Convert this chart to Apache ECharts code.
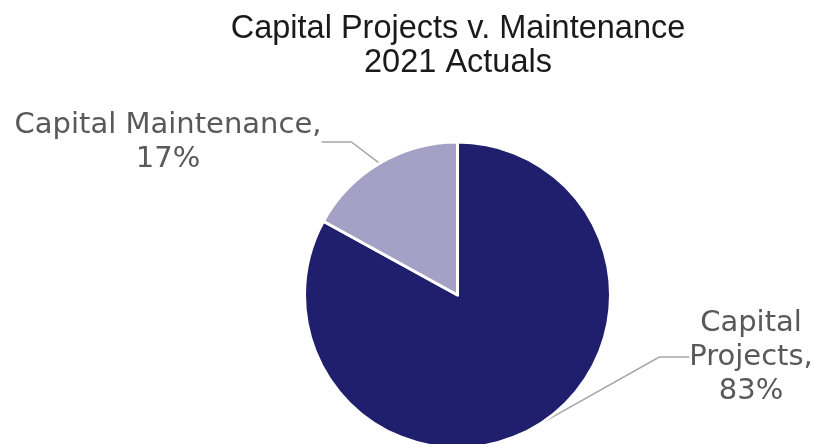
<!DOCTYPE html>
<html>
<head>
    <title>Capital Projects v. Maintenance</title>
    <script src="https://cdn.jsdelivr.net/npm/echarts@6/dist/echarts.min.js"></script>
</head>
<body style="margin:0">
    <div id="chart" style="width: 815px; height: 444px;"></div>
    <script>
        const categories = ['Capital Projects', 'Capital Maintenance'];
        const shares = [83, 17];
        const colors = ['#1f1f6e', '#a4a0c6'];

        const labelNames = ['Capital\nProjects,', 'Capital Maintenance,'];

        const option = {
            backgroundColor: '#fff',
            title: {
                text: 'Capital Projects v. Maintenance\n2021 Actuals',
                left: 453,
                top: 7,
                textAlign: 'center',
                textStyle: {
                    fontFamily: 'Liberation Sans',
                    fontWeight: 'normal',
                    fontSize: 32.5,
                    lineHeight: 34,
                    color: '#1a1a1a'
                }
            },
            series: [
                {
                    type: 'pie',
                    center: [457.5, 295],
                    radius: 153,
                    startAngle: 90,
                    clockwise: true,
                    silent: true,
                    itemStyle: {
                        borderColor: '#fff',
                        borderWidth: 3
                    },
                    label: {
                        show: true,
                        formatter: function (p) {
                            return labelNames[p.dataIndex] + '\n' + p.value + '%';
                        },
                        fontFamily: 'DejaVu Sans',
                        fontSize: 29,
                        lineHeight: 34,
                        color: '#595959',
                        align: 'center'
                    },
                    labelLine: {
                        show: true,
                        lineStyle: { color: '#a6a6a6', width: 1.5 }
                    },
                    labelLayout: function (params) {
                        if (params.dataIndex === 0) {
                            return { x: 751, y: 357, align: 'center', verticalAlign: 'middle' };
                        }
                        return { x: 168, y: 142, align: 'center', verticalAlign: 'middle' };
                    },
                    data: categories.map(function (c, i) {
                        return { name: c, value: shares[i], itemStyle: { color: colors[i] } };
                    })
                }
            ]
        };

        const chartDom = document.getElementById('chart');
        const myChart = echarts.init(chartDom);
        myChart.setOption(option);
    </script>
</body>
</html>
